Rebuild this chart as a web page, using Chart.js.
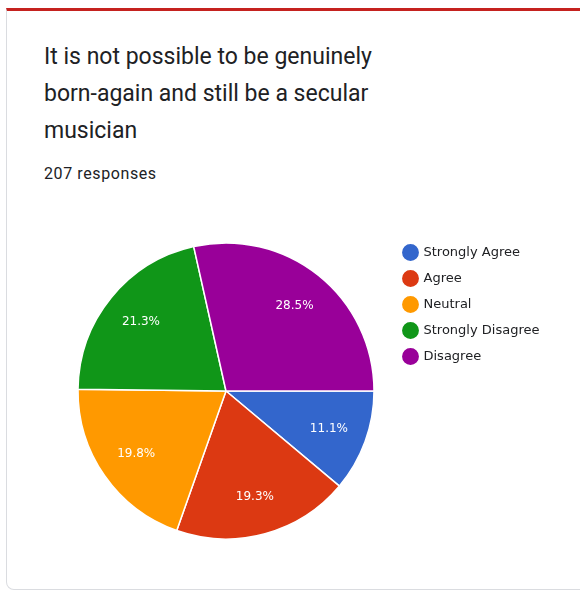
<!DOCTYPE html>
<html>
<head>
<meta charset="utf-8">
<script src="https://cdn.jsdelivr.net/npm/chart.js@4/dist/chart.umd.min.js"></script>
<style>
  body { margin: 0; background: #fff; width: 580px; height: 593px; overflow: hidden; font-family: Roboto, sans-serif; }
  .card { position: absolute; left: 6px; top: 8px; width: 590px; height: 582px; border: 1px solid #dadce0; border-top: 3px solid #c5221f; border-radius: 0 0 8px 8px; box-sizing: border-box; }
  .title { position: absolute; left: 44px; top: 38px; font-size: 23px; line-height: 37px; color: #202124; white-space: nowrap; }
  .sub { position: absolute; left: 44px; top: 164px; font-size: 16px; letter-spacing: 0.6px; color: #202124; }
  .wrap { position: absolute; left: 0; top: 228px; width: 580px; height: 326px; }
</style>
</head>
<body>
<div class="card"></div>
<div class="title">It is not possible to be genuinely<br>born-again and still be a secular<br>musician</div>
<div class="sub">207 responses</div>
<div class="wrap"><canvas id="pie"></canvas></div>
<script>
const labels = ['Strongly Agree', 'Agree', 'Neutral', 'Strongly Disagree', 'Disagree'];
const percents = [11.1, 19.3, 19.8, 21.3, 28.5];
const colors = ['#3366cc', '#dc3912', '#ff9900', '#109618', '#990099'];

// draws the percentage inside each slice
const sliceLabels = {
    id: 'sliceLabels',
    afterDatasetsDraw(chart) {
        const ctx = chart.ctx;
        const meta = chart.getDatasetMeta(0);
        ctx.save();
        ctx.font = '12px "DejaVu Sans", sans-serif';
        ctx.fillStyle = '#fff';
        ctx.textAlign = 'center';
        ctx.textBaseline = 'middle';
        meta.data.forEach((arc, i) => {
            const p = arc.getProps(['x', 'y', 'startAngle', 'endAngle', 'outerRadius']);
            const mid = (p.startAngle + p.endAngle) / 2;
            const r = p.outerRadius * 0.74;
            ctx.fillText(percents[i].toFixed(1) + '%', p.x + Math.cos(mid) * r, p.y + Math.sin(mid) * r);
        });
        ctx.restore();
    }
};

// fixed legend width so the pie sits where it should
const legendWidth = {
    id: 'legendWidth',
    beforeInit(chart) {
        const fit = chart.legend.fit;
        chart.legend.fit = function() {
            fit.call(this);
            this.width = 189;
        };
    }
};

document.addEventListener('DOMContentLoaded', function() {
    const ctx = document.getElementById('pie').getContext('2d');
    new Chart(ctx, {
        type: 'pie',
        data: {
            labels: labels,
            datasets: [{
                data: percents,
                backgroundColor: colors,
                borderColor: '#fff',
                borderWidth: 1.5,
                radius: 148
            }]
        },
        options: {
            responsive: true,
            maintainAspectRatio: false,
            animation: false,
            rotation: 90,
            layout: { padding: { left: 61, top: 5, bottom: 5, right: 0 } },
            plugins: {
                tooltip: { enabled: false },
                legend: {
                    position: 'right',
                    align: 'start',
                    labels: {
                        usePointStyle: true,
                        pointStyle: 'circle',
                        boxWidth: 13,
                        boxHeight: 13,
                        padding: 13,
                        color: '#202124',
                        font: { family: '"DejaVu Sans", sans-serif', size: 13 }
                    }
                }
            }
        },
        plugins: [sliceLabels, legendWidth]
    });
});
</script>
</body>
</html>
